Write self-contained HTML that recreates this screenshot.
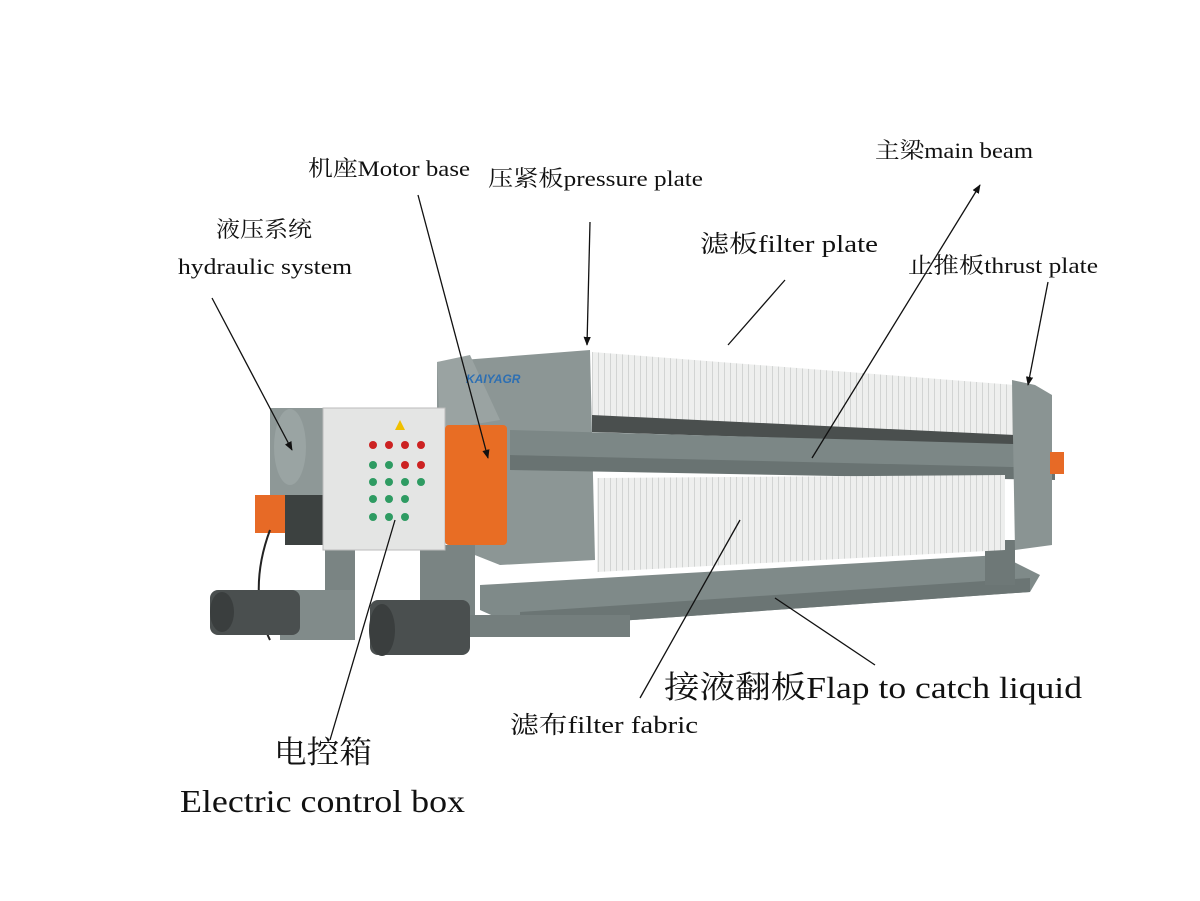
<!DOCTYPE html>
<html><head><meta charset="utf-8"><style>html,body{margin:0;padding:0;background:#fff}svg{display:block}</style></head><body>
<svg width="1200" height="901" viewBox="0 0 1200 901" xmlns="http://www.w3.org/2000/svg">
<defs><marker id="a" viewBox="0 0 10 10" refX="9" refY="5" markerWidth="7" markerHeight="7" orient="auto"><path d="M0,1L10,5L0,9z" fill="#111"/></marker>
<pattern id="st" width="6" height="40" patternUnits="userSpaceOnUse"><rect width="6" height="40" fill="#eeefee"/><rect x="4" width="1" height="40" fill="#d2d4d3"/></pattern></defs>
<rect width="1200" height="901" fill="#fff"/>
<!-- bottom tray -->
<polygon points="480,585 1000,555 1040,575 1030,592 520,628 480,610" fill="#7f8a89"/>
<polygon points="520,612 1030,578 1030,592 520,628" fill="#6b7574"/>
<rect x="470" y="615" width="160" height="22" fill="#747e7d"/>
<rect x="985" y="540" width="30" height="45" fill="#6e7877"/>
<!-- head frame -->
<polygon points="437,362 590,350 595,560 500,565 437,540" fill="#8c9695"/>
<polygon points="437,362 470,355 500,420 440,430" fill="#9aa3a2"/>
<text x="466" y="383" font-family="Liberation Sans,sans-serif" font-size="12" font-style="italic" font-weight="bold" fill="#2d6fb3">KAIYAGR</text>
<!-- upper filter plates -->
<polygon points="592,352 1015,385 1015,440 592,425" fill="url(#st)"/>
<polygon points="592,415 1015,435 1015,445 592,432" fill="#4a4f4e"/>
<!-- beams -->
<polygon points="510,430 1050,445 1055,470 510,455" fill="#7c8786"/>
<polygon points="510,455 1055,468 1055,480 510,470" fill="#697372"/>
<!-- lower filter fabric -->
<polygon points="597,478 1005,475 1005,550 597,572" fill="url(#st)"/>
<!-- thrust plate -->
<polygon points="1012,380 1035,385 1052,395 1052,545 1015,550" fill="#8a9493"/>
<rect x="1050" y="452" width="14" height="22" fill="#e76a26"/>
<!-- legs -->
<rect x="325" y="535" width="30" height="100" fill="#7a8483"/>
<rect x="420" y="545" width="55" height="70" fill="#7a8483"/>
<rect x="280" y="590" width="75" height="50" fill="#818b8a"/>
<!-- cylinder/hydraulic -->
<rect x="270" y="408" width="70" height="90" fill="#8e9897"/>
<ellipse cx="290" cy="447" rx="16" ry="38" fill="#9aa4a3"/>
<rect x="255" y="495" width="45" height="38" fill="#e76a26"/>
<rect x="285" y="495" width="45" height="50" fill="#3c4140"/>
<path d="M270,530 C255,570 255,610 270,640" stroke="#222" stroke-width="2" fill="none"/>
<!-- control box -->
<rect x="323" y="408" width="122" height="142" fill="#e4e5e4" stroke="#bbb"/>
<g fill="#2e9b62"><circle cx="373" cy="465" r="4"/><circle cx="373" cy="482" r="4"/><circle cx="373" cy="499" r="4"/><circle cx="389" cy="465" r="4"/><circle cx="389" cy="482" r="4"/><circle cx="389" cy="499" r="4"/><circle cx="405" cy="482" r="4"/><circle cx="405" cy="499" r="4"/><circle cx="373" cy="517" r="4"/><circle cx="389" cy="517" r="4"/><circle cx="405" cy="517" r="4"/><circle cx="421" cy="482" r="4"/></g>
<g fill="#c22"><circle cx="373" cy="445" r="4"/><circle cx="389" cy="445" r="4"/><circle cx="405" cy="445" r="4"/><circle cx="421" cy="445" r="4"/><circle cx="421" cy="465" r="4"/><circle cx="405" cy="465" r="4"/></g>
<polygon points="400,420 395,430 405,430" fill="#f0c000"/>
<!-- orange cover -->
<rect x="445" y="425" width="62" height="120" rx="4" fill="#e86d24"/>
<!-- motors -->
<rect x="210" y="590" width="90" height="45" rx="8" fill="#4a4f4f"/>
<ellipse cx="222" cy="612" rx="12" ry="20" fill="#3a3e3e"/>
<rect x="370" y="600" width="100" height="55" rx="8" fill="#4a4f4f"/>
<ellipse cx="382" cy="630" rx="13" ry="26" fill="#3a3e3e"/>
<!-- lines -->
<g stroke="#111" stroke-width="1.3" fill="none">
<line x1="212" y1="298" x2="292" y2="450" marker-end="url(#a)"/>
<line x1="418" y1="195" x2="488" y2="458" marker-end="url(#a)"/>
<line x1="590" y1="222" x2="587" y2="345" marker-end="url(#a)"/>
<line x1="785" y1="280" x2="728" y2="345"/>
<line x1="812" y1="458" x2="980" y2="185" marker-end="url(#a)"/>
<line x1="1048" y1="282" x2="1028" y2="385" marker-end="url(#a)"/>
<line x1="640" y1="698" x2="740" y2="520"/>
<line x1="875" y1="665" x2="775" y2="598"/>
<line x1="330" y1="740" x2="395" y2="520"/>
</g>
<g font-family="Liberation Serif,'Noto Serif CJK SC',serif" fill="#111">
<text x="308" y="176" font-size="22" textLength="162" lengthAdjust="spacingAndGlyphs">机座Motor base</text>
<text x="488" y="186" font-size="22" textLength="215" lengthAdjust="spacingAndGlyphs">压紧板pressure plate</text>
<text x="875" y="158" font-size="22" textLength="158" lengthAdjust="spacingAndGlyphs">主梁main beam</text>
<text x="216" y="237" font-size="22" textLength="96" lengthAdjust="spacingAndGlyphs">液压系统</text>
<text x="178" y="274" font-size="22" textLength="174" lengthAdjust="spacingAndGlyphs">hydraulic system</text>
<text x="700" y="252" font-size="24" textLength="178" lengthAdjust="spacingAndGlyphs">滤板filter plate</text>
<text x="908" y="273" font-size="22" textLength="190" lengthAdjust="spacingAndGlyphs">止推板thrust plate</text>
<text x="664" y="698" font-size="31" textLength="418" lengthAdjust="spacingAndGlyphs">接液翻板Flap to catch liquid</text>
<text x="510" y="733" font-size="24" textLength="188" lengthAdjust="spacingAndGlyphs">滤布filter fabric</text>
<text x="274" y="763" font-size="31" textLength="98" lengthAdjust="spacingAndGlyphs">电控箱</text>
<text x="180" y="812" font-size="32" textLength="285" lengthAdjust="spacingAndGlyphs">Electric control box</text>
</g>
</svg>
</body></html>
